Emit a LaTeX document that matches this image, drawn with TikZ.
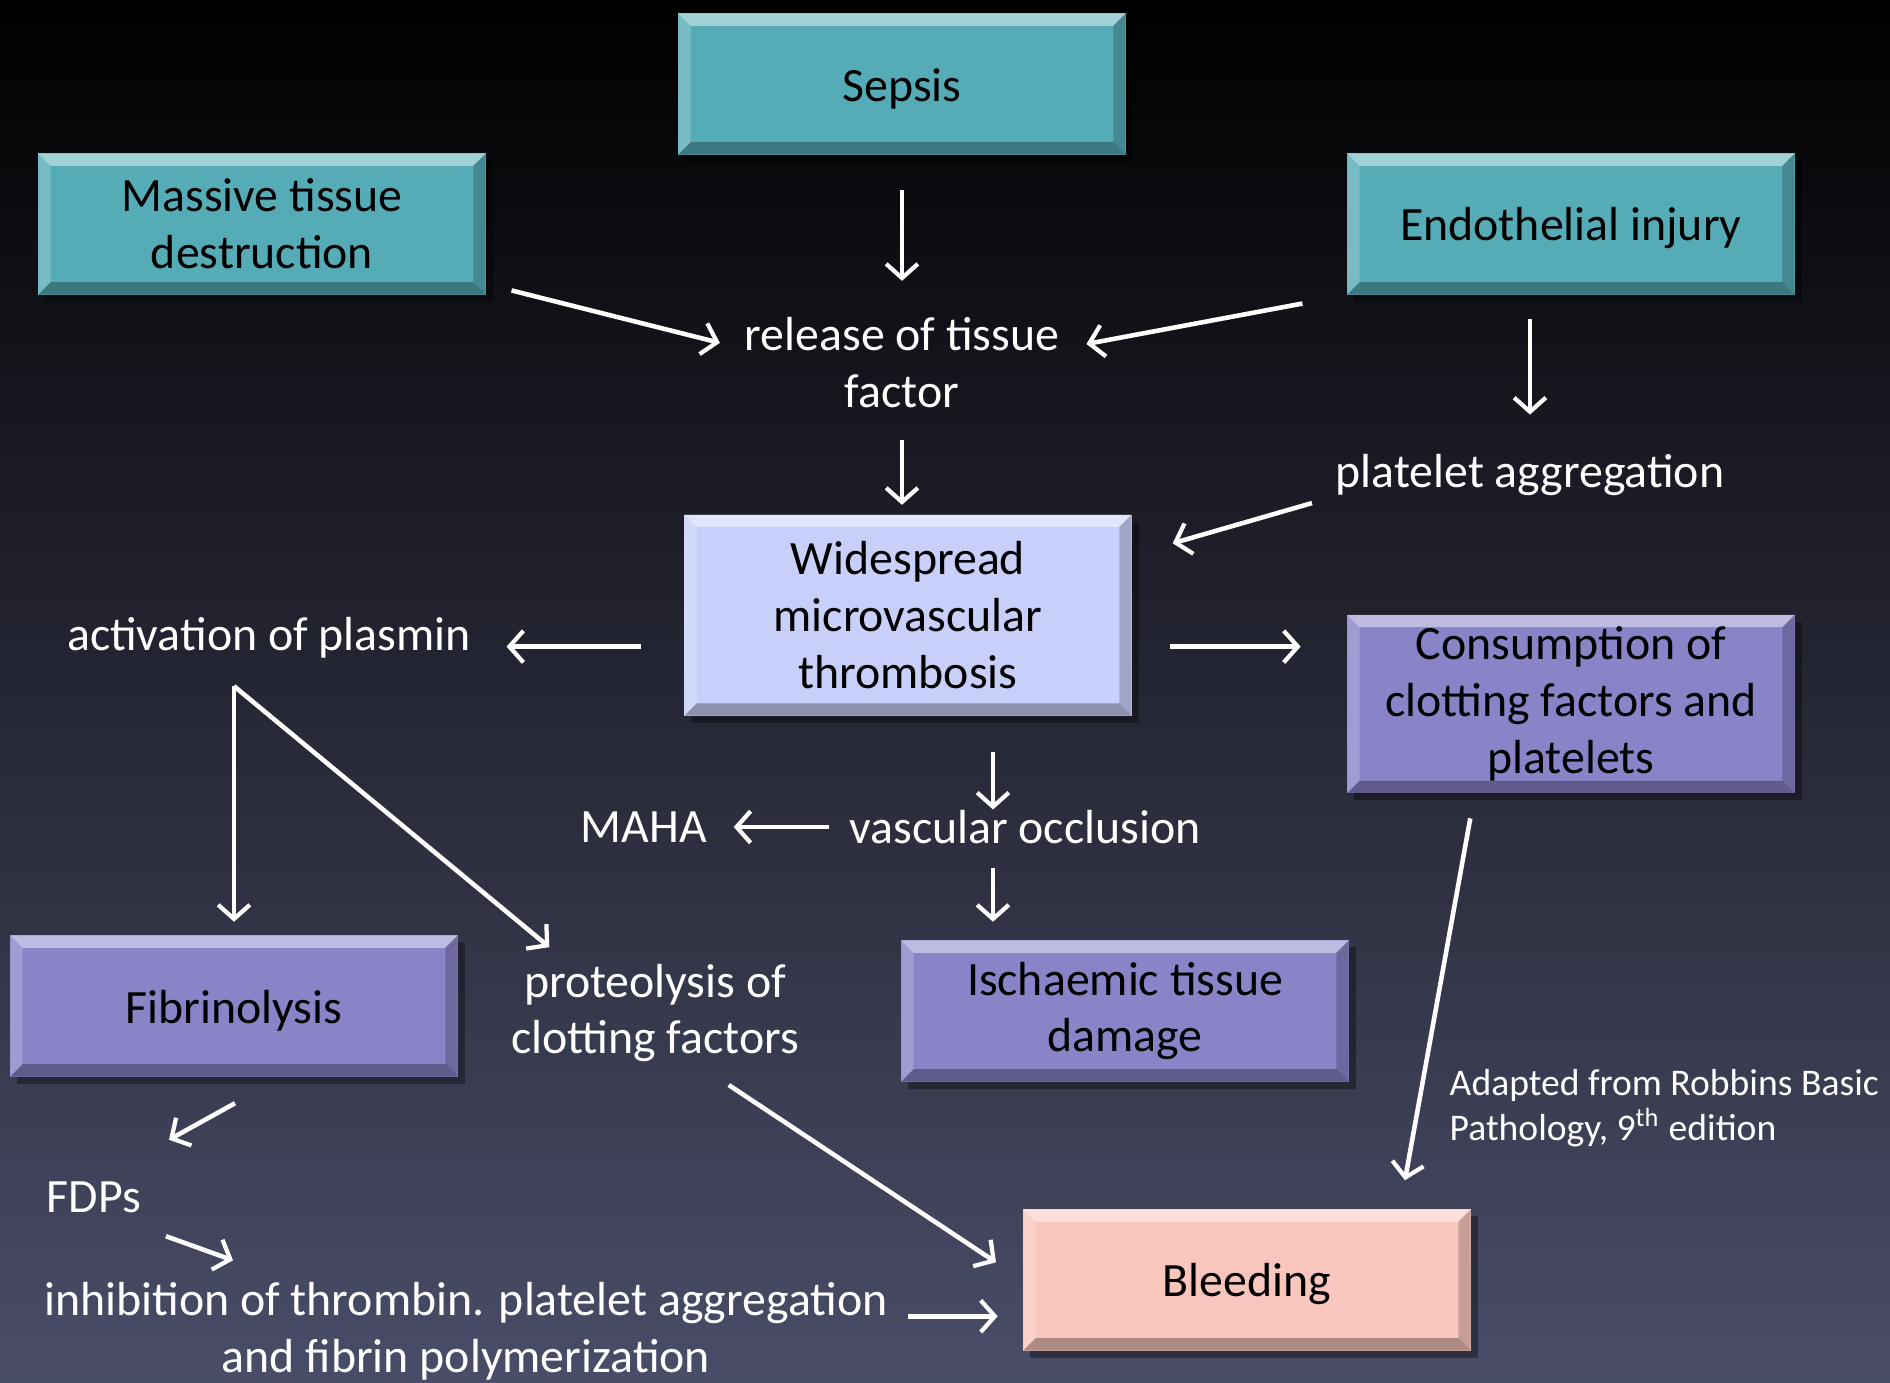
\documentclass[tikz,border=0pt]{standalone}
\usepackage{fontspec}
\setmainfont{Carlito}
\usepackage{tikz}
\usetikzlibrary{positioning, arrows.meta, calc, shadows}

\definecolor{bgbot}{RGB}{74,77,104}
\definecolor{bgmid}{RGB}{26,26,40}
\definecolor{tealbox}{RGB}{86,172,182}
\definecolor{lilacbox}{RGB}{200,208,250}
\definecolor{violetbox}{RGB}{137,132,200}
\definecolor{pinkbox}{RGB}{248,198,188}

\tikzset{
>={Straight Barb[length=4pt,width=9pt,line width=1.2pt]}, % open white arrow heads
flow/.style={->, white, line width=1.3pt}, % every connector
bevel/.style={path picture={ % raised edges of the slide boxes
  \fill[white,opacity=.45] (path picture bounding box.north west) -- (path picture bounding box.north east)
    -- ([shift={(-3.5pt,-3.5pt)}]path picture bounding box.north east) -- ([shift={(3.5pt,-3.5pt)}]path picture bounding box.north west) -- cycle;
  \fill[white,opacity=.2] (path picture bounding box.north west) -- ([shift={(3.5pt,-3.5pt)}]path picture bounding box.north west)
    -- ([shift={(3.5pt,3.5pt)}]path picture bounding box.south west) -- (path picture bounding box.south west) -- cycle;
  \fill[black,opacity=.3] (path picture bounding box.south west) -- (path picture bounding box.south east)
    -- ([shift={(-3.5pt,3.5pt)}]path picture bounding box.south east) -- ([shift={(3.5pt,3.5pt)}]path picture bounding box.south west) -- cycle;
  \fill[black,opacity=.2] (path picture bounding box.north east) -- (path picture bounding box.south east)
    -- ([shift={(-3.5pt,3.5pt)}]path picture bounding box.south east) -- ([shift={(-3.5pt,-3.5pt)}]path picture bounding box.north east) -- cycle;
}},
box/.style={rectangle, minimum width=4.47cm, minimum height=1.41cm, align=center, text=black,
  execute at begin node={\rule{0pt}{12pt}}, % sits the text a little lower, as on the slide
  bevel, drop shadow={shadow xshift=2pt, shadow yshift=-2pt, opacity=.35, fill=black}},
cause/.style={box, fill=tealbox}, % starting conditions
core/.style={box, fill=lilacbox, minimum height=2.01cm}, % central event
effect/.style={box, fill=violetbox}, % consequences
outcome/.style={box, fill=pinkbox}, % final outcome
freetext/.style={text=white, align=center, inner sep=0pt}, % labels without a box
source/.style={text=white, align=left, inner sep=0pt, font=\fontsize{10.7}{12.7}\selectfont},
}

\begin{document}
\begin{tikzpicture}[x=0.01cm, y=-0.01cm, font=\fontsize{13.6}{16.2}\selectfont]
\shade[top color=black, middle color=bgmid, bottom color=bgbot] (0,0) rectangle (1890,1383);
\useasboundingbox (0,0) rectangle (1890,1383);

\node[cause] (sepsis) at (902,84) {Sepsis};
\node[cause] (massive) at (262,224) {Massive tissue\\destruction};
\node[cause] (endo) at (1571,224) {Endothelial injury};
\node[freetext, below=1.615cm of sepsis] (release) {release of tissue\\factor};
\node[core, below=1.05cm of release, xshift=0.06cm] (thromb) {Widespread\\microvascular\\thrombosis};
\node[freetext] (platelet) at (1530,475) {platelet aggregation};
\node[freetext] (plasmin) at (269,638) {activation of plasmin};
\node[effect, minimum height=1.78cm] (consum) at (1571,704) {Consumption of\\clotting factors and\\platelets};
\node[freetext] (vasc) at (1025,827) {vascular occlusion};
\node[freetext, left=1.41cm of vasc] (maha) {MAHA};
\node[effect] (fibrin) at (234,1006) {Fibrinolysis};
\node[freetext] (proteo) at (655,1013) {proteolysis of\\clotting factors};
\node[effect] (isch) at (1125,1011) {Ischaemic tissue\\damage};
\node[freetext] (fdps) at (94,1197) {FDPs};
\node[source, anchor=west] (source) at (1449,1108) {Adapted from Robbins Basic\\Pathology, 9\textsuperscript{th} edition};
\node[outcome] (bleed) at (1247,1280) {Bleeding};
\node[freetext] (inhib) at (466,1331) {inhibition of thrombin. platelet aggregation\\and fibrin polymerization};

\draw[flow, shorten <=.35cm, shorten >=.36cm] (sepsis.south) -- (sepsis.south |- release.north);
\draw[flow, shorten <=.26cm, shorten >=.25cm] (massive.-15) -- (release.175);
\draw[flow, shorten <=.45cm, shorten >=.27cm] (endo.south west) -- (release.5);
\draw[flow, shorten <=.31cm, shorten >=.09cm] (sepsis.south |- release.south) -- (sepsis.south |- thromb.north);
\draw[flow, shorten <=.24cm, shorten >=.39cm] (platelet.north |- endo.south) -- (platelet.north);
\draw[flow, shorten <=.24cm, shorten >=.42cm] (platelet.south west) -- (thromb.15);
\draw[flow, shorten <=.43cm, shorten >=.35cm] (thromb.188) -- (thromb.188 -| plasmin.east);
\draw[flow, shorten <=.38cm, shorten >=.46cm] (thromb.-8) -- (thromb.-8 -| consum.west);
\draw[flow, shorten <=.36cm] (thromb.-50) -- (thromb.-50 |- vasc.north);
\draw[flow, shorten <=.2cm, shorten >=.26cm] (vasc.west) -- (maha.east);
\draw[flow, shorten <=.24cm, shorten >=.18cm] (thromb.-50 |- vasc.south) -- (thromb.-50 |- isch.north);
\path (plasmin.south -| fibrin.north) ++(0,27) coordinate (fork);
\draw[flow, shorten >=.13cm] (fork) -- (fibrin.north);
\draw[flow, shorten >=.25cm] (fork) -- (proteo.150);
\draw[flow, shorten <=.25cm, shorten >=.29cm] (consum.-137) -- (bleed.25);
\draw[flow] ($(fibrin.south)+(1,26)$) -- ($(fdps.north)+(75,-41)$);
\draw[flow] ($(fdps.south)+(72,23)$) -- ($(inhib.north)+(-233,-21)$);
\draw[flow, shorten <=.4cm, shorten >=.32cm] (proteo.-51) -- (bleed.west);
\draw[flow, shorten <=.2cm, shorten >=.25cm] (inhib.2) -- (inhib.2 -| bleed.west);
\end{tikzpicture}
\end{document}
